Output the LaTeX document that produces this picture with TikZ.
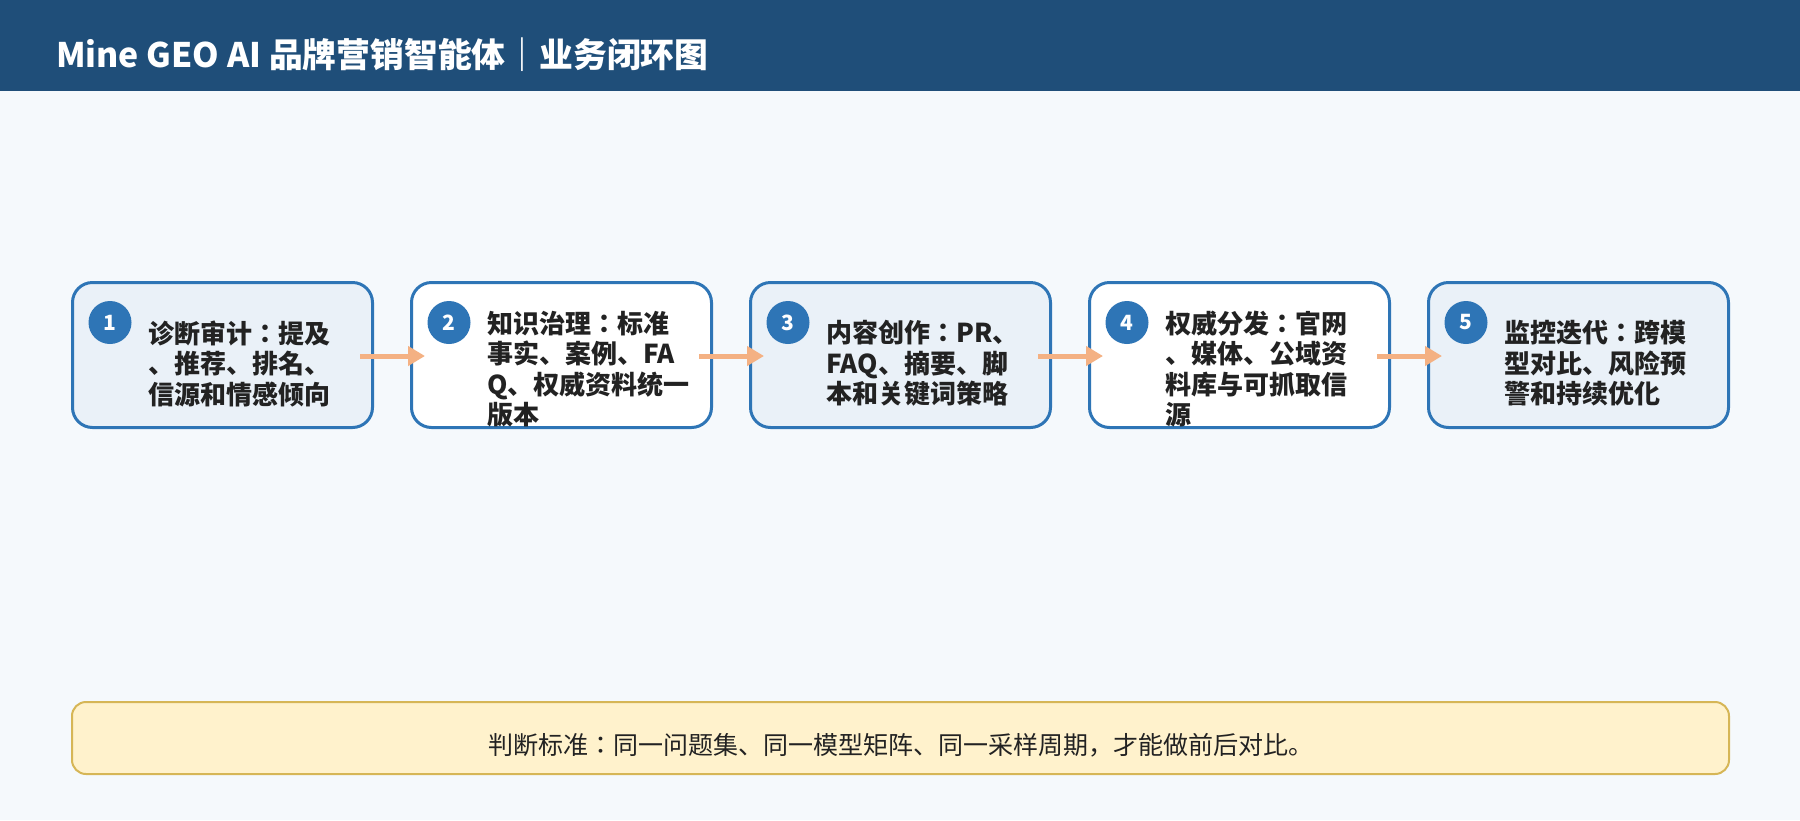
\documentclass[tikz,border=0pt]{standalone}
\usepackage{fontspec}
\setmainfont{Noto Sans CJK JP}
\usetikzlibrary{arrows.meta}
\definecolor{hdr}{HTML}{1F4E79}
\definecolor{bg}{HTML}{F5F9FC}
\definecolor{bord}{HTML}{2E75B6}
\definecolor{fillA}{HTML}{EAF1F8}
\definecolor{arrc}{HTML}{F4B183}
\definecolor{notefill}{HTML}{FFF2CC}
\definecolor{noteline}{HTML}{D6B656}
\definecolor{txt}{HTML}{222222}
\begin{document}
\begin{tikzpicture}[x=1pt,y=-1pt,
  stepbox/.style={draw=bord, line width=3pt, rounded corners=20pt, minimum width=300pt, minimum height=145pt, inner sep=0pt, outer sep=0pt},
  badge/.style={circle, fill=bord, minimum size=43pt, inner sep=0pt, text=white, font=\fontsize{21}{21}\selectfont\bfseries},
  steptext/.style={anchor=west, align=left, inner sep=0pt, text=txt, font=\fontsize{26}{30.5}\selectfont\bfseries},
  flow/.style={draw=arrc, line width=5pt, -{Triangle[length=17pt,width=19pt]}},
  notebox/.style={draw=noteline, fill=notefill, line width=2pt, rounded corners=14pt, minimum width=1657pt, minimum height=72pt, inner sep=0pt, outer sep=0pt},
  notetxt/.style={inner sep=0pt, text=txt, font=\fontsize{25}{30}\selectfont}]
\fill[bg] (0,0) rectangle (1800,820);
\useasboundingbox (0,0) rectangle (1800,820);
\fill[hdr] (0,0) rectangle (1800,91);
\node[anchor=west, inner sep=0pt, text=white, font=\fontsize{33.8}{40}\selectfont\bfseries] (title) at (56,55) {Mine GEO AI 品牌营销智能体｜业务闭环图};

\node[stepbox, fill=fillA] (b1) at (222.5,355) {};
\node[stepbox, fill=white] (b2) at (561.5,355) {};
\node[stepbox, fill=fillA] (b3) at (900.5,355) {};
\node[stepbox, fill=white] (b4) at (1239.5,355) {};
\node[stepbox, fill=fillA] (b5) at (1578.5,355) {};

\node[badge] (c1) at ([xshift=37.5pt,yshift=32.5pt]b1.west) {1};
\node[badge] (c2) at ([xshift=37.5pt,yshift=32.5pt]b2.west) {2};
\node[badge] (c3) at ([xshift=37.5pt,yshift=32.5pt]b3.west) {3};
\node[badge] (c4) at ([xshift=37.5pt,yshift=32.5pt]b4.west) {4};
\node[badge] (c5) at ([xshift=37.5pt,yshift=32.5pt]b5.west) {5};

\node[steptext] (t1) at ([xshift=75.5pt,yshift=-8.5pt]b1.west) {诊断审计：提及\\、推荐、排名、\\信源和情感倾向};
\node[steptext] (t2) at ([xshift=75.5pt,yshift=-14pt]b2.west) {知识治理：标准\\事实、案例、FA\\Q、权威资料统一\\版本};
\node[steptext] (t3) at ([xshift=75.5pt,yshift=-8.5pt]b3.west) {内容创作：PR、\\FAQ、摘要、脚\\本和关键词策略};
\node[steptext] (t4) at ([xshift=75.5pt,yshift=-14pt]b4.west) {权威分发：官网\\、媒体、公域资\\料库与可抓取信\\源};
\node[steptext] (t5) at ([xshift=75.5pt,yshift=-8.5pt]b5.west) {监控迭代：跨模\\型对比、风险预\\警和持续优化};

\draw[flow] ([xshift=-12.5pt,yshift=-1pt]b1.east) -- ([xshift=13.5pt,yshift=-1pt]b2.west);
\draw[flow] ([xshift=-12.5pt,yshift=-1pt]b2.east) -- ([xshift=13.5pt,yshift=-1pt]b3.west);
\draw[flow] ([xshift=-12.5pt,yshift=-1pt]b3.east) -- ([xshift=13.5pt,yshift=-1pt]b4.west);
\draw[flow] ([xshift=-12.5pt,yshift=-1pt]b4.east) -- ([xshift=13.5pt,yshift=-1pt]b5.west);

\node[notebox] (note) at (900.5,738) {};
\node[notetxt] (notetext) at ([yshift=-7pt]note.center) {判断标准：同一问题集、同一模型矩阵、同一采样周期，才能做前后对比。};
\end{tikzpicture}
\end{document}
